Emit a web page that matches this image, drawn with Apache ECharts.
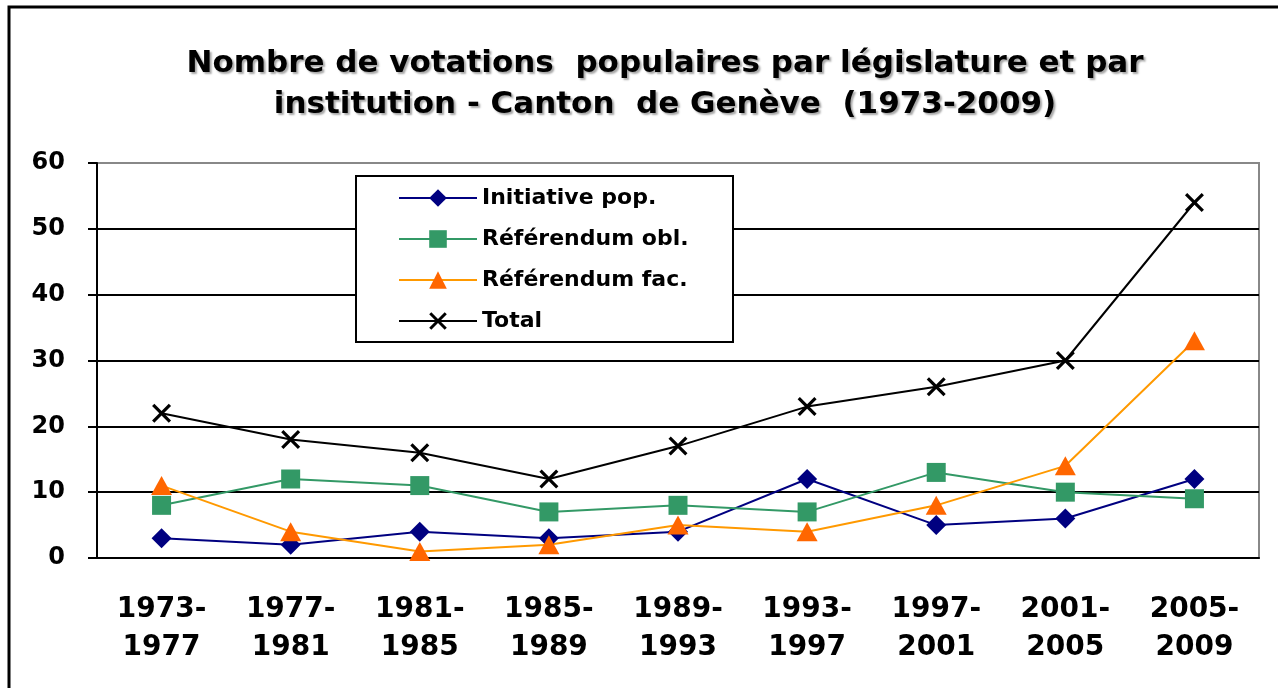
<!DOCTYPE html>
<html>
<head>
<meta charset="utf-8">
<script src="https://cdn.jsdelivr.net/npm/echarts@6/dist/echarts.min.js"></script>
<style>
  html, body { margin: 0; padding: 0; background: #fff; }
  #chart { width: 1278px; height: 688px; }
</style>
</head>
<body>
<div id="chart"></div>
<script>
// legislatures
const periods = ['1973-1977', '1977-1981', '1981-1985', '1985-1989', '1989-1993',
  '1993-1997', '1997-2001', '2001-2005', '2005-2009']
const initiative = [3, 2, 4, 3, 4, 12, 5, 6, 12]
const refObl = [8, 12, 11, 7, 8, 7, 13, 10, 9]
const refFac = [11, 4, 1, 2, 5, 4, 8, 14, 33]
const total = [22, 18, 16, 12, 17, 23, 26, 30, 54]

const font = '"DejaVu Sans", "Liberation Sans", sans-serif'
const crossPath = 'path://M0,1.2L1.2,0L5,3.8L8.8,0L10,1.2L6.2,5L10,8.8L8.8,10L5,6.2L1.2,10L0,8.8L3.8,5Z'

const chart = echarts.init(document.getElementById('chart'))

chart.setOption({
  animation: false,
  backgroundColor: '#fff',
  textStyle: { fontFamily: font },
  title: {
    text: 'Nombre de votations  populaires par législature et par\ninstitution - Canton  de Genève  (1973-2009)',
    left: 660,
    textAlign: 'center',
    top: 38,
    textStyle: {
      fontFamily: font,
      fontSize: 31,
      fontWeight: 'bold',
      lineHeight: 41,
      color: '#000',
      textShadowColor: 'rgba(0,0,0,0.35)',
      textShadowOffsetX: 2,
      textShadowOffsetY: 2,
      textShadowBlur: 2
    }
  },
  graphic: [
    // outer chart frame
    { type: 'rect', z: 0, shape: { x: 9, y: 7, width: 1300, height: 720 },
      style: { fill: 'none', stroke: '#000', lineWidth: 3 } },
    // legend box
    { type: 'rect', z: 3, shape: { x: 356, y: 176, width: 377, height: 166 },
      style: { fill: '#fff', stroke: '#000', lineWidth: 2 } }
  ],
  legend: {
    z: 4,
    orient: 'vertical',
    left: 398,
    top: 187,
    padding: 0,
    itemWidth: 78,
    itemHeight: 22,
    itemGap: 19,
    textStyle: { fontFamily: font, fontSize: 22, fontWeight: 'bold', color: '#000' }
  },
  grid: {
    left: 97,
    right: 19,
    top: 163,
    bottom: 130,
    show: true,
    borderColor: '#888',
    borderWidth: 2
  },
  xAxis: {
    type: 'category',
    data: periods,
    boundaryGap: true,
    axisLine: { lineStyle: { color: '#000', width: 2 } },
    axisTick: { length: 8, lineStyle: { color: '#000', width: 2 } },
    axisLabel: {
      formatter: v => v.replace('-', '-\n'),
      fontFamily: font,
      fontSize: 28,
      fontWeight: 'bold',
      lineHeight: 38,
      color: '#000',
      margin: 33,
      interval: 0
    }
  },
  yAxis: {
    type: 'value',
    min: 0,
    max: 60,
    interval: 10,
    axisLine: { show: true, lineStyle: { color: '#000', width: 2 } },
    axisTick: { show: true, length: 9, lineStyle: { color: '#000', width: 2 } },
    axisLabel: { fontFamily: font, fontSize: 24, fontWeight: 'bold', color: '#000', margin: 32 },
    splitLine: {
      lineStyle: { color: ['#000', '#000', '#000', '#000', '#000', '#000', '#888'], width: 2 }
    }
  },
  series: [
    {
      name: 'Initiative pop.',
      type: 'line',
      data: initiative,
      symbol: 'diamond',
      symbolSize: 20,
      itemStyle: { color: '#000080' },
      lineStyle: { color: '#000080', width: 2 }
    },
    {
      name: 'Référendum obl.',
      type: 'line',
      data: refObl,
      symbol: 'rect',
      symbolSize: 19,
      itemStyle: { color: '#339966' },
      lineStyle: { color: '#339966', width: 2 }
    },
    {
      name: 'Référendum fac.',
      type: 'line',
      data: refFac,
      symbol: 'triangle',
      symbolSize: [21, 19],
      itemStyle: { color: '#FF6600' },
      lineStyle: { color: '#FF9900', width: 2 }
    },
    {
      name: 'Total',
      type: 'line',
      data: total,
      symbol: crossPath,
      symbolSize: 19,
      itemStyle: { color: '#000' },
      lineStyle: { color: '#000', width: 2 }
    }
  ]
})
</script>
</body>
</html>
